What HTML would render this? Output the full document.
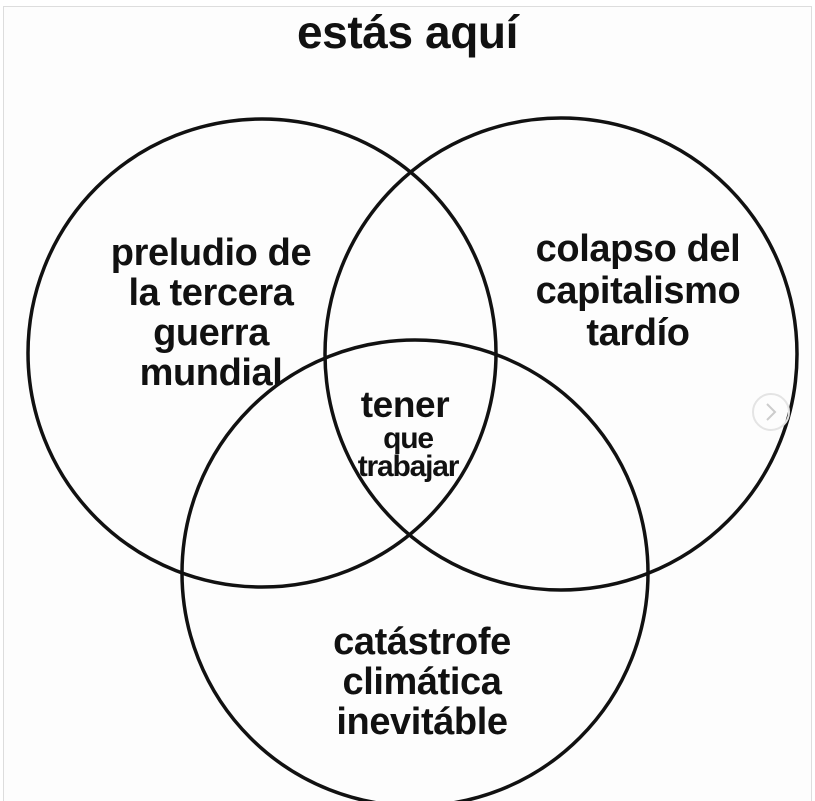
<!DOCTYPE html>
<html><head><meta charset="utf-8"><style>
html,body{margin:0;padding:0;background:#fff}
body{width:815px;height:801px;position:relative;overflow:hidden;font-family:"Liberation Sans",sans-serif}
.t{position:absolute;font-weight:bold;color:#111;text-align:center;line-height:40px;font-size:38px;letter-spacing:-0.4px;white-space:nowrap}
</style></head><body>
<svg width="815" height="801" style="position:absolute;left:0;top:0">
<rect x="3.5" y="6.5" width="808" height="800" fill="#fdfdfd" stroke="#ddd" stroke-width="1"/>
<g fill="none" stroke="#111" stroke-width="3.5">
<circle cx="262" cy="353" r="234"/>
<circle cx="561" cy="354" r="236"/>
<circle cx="415" cy="573" r="233"/>
</g>
<circle cx="771" cy="412" r="18" fill="none" stroke="#e4e4e4" stroke-width="2"/>
<path d="M767 404 L775 412 L767 420" fill="none" stroke="#ccc" stroke-width="2"/>
</svg>
<div class="t" style="left:0;width:815px;top:6px;font-size:46px;line-height:52px">estás aquí</div>
<div class="t" style="left:86px;width:250px;top:233px">preludio de<br>la tercera<br>guerra<br>mundial</div>
<div class="t" style="left:508px;width:260px;top:228px;line-height:42px">colapso del<br>capitalismo<br>tardío</div>
<div class="t" style="left:290px;width:230px;top:386px;line-height:37px;font-size:37px">tener</div>
<div class="t" style="left:293px;width:230px;top:425px;line-height:28px;font-size:30px;letter-spacing:-1.2px">que<br>trabajar</div>
<div class="t" style="left:297px;width:250px;top:622px">catástrofe<br>climática<br>inevitáble</div>
</body></html>
